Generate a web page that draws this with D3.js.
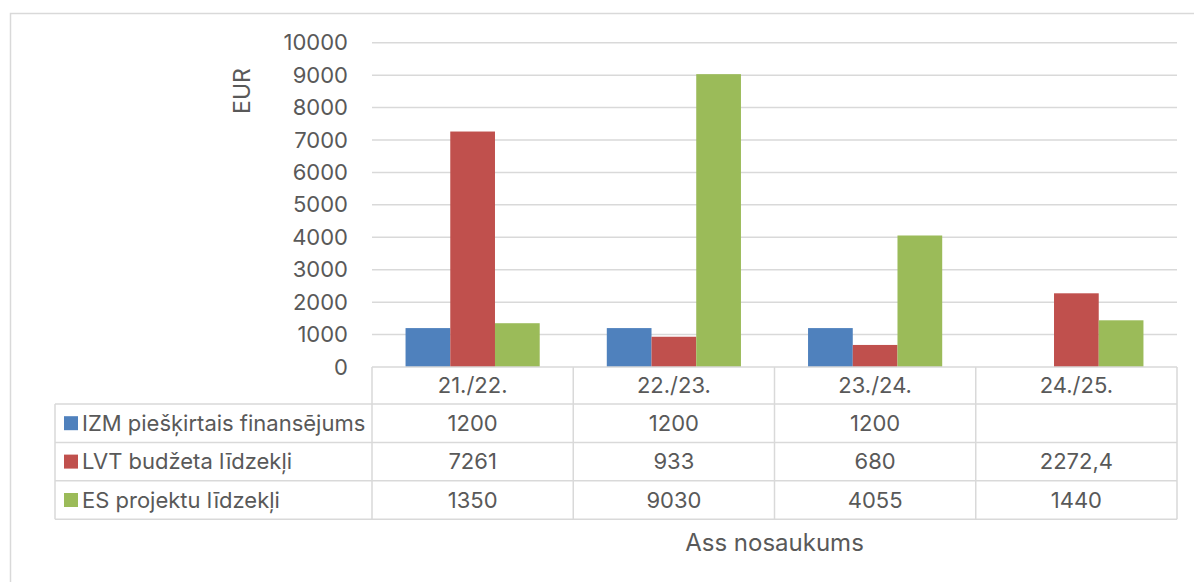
<!DOCTYPE html>
<html>
<head>
<meta charset="utf-8">
<script src="https://cdn.jsdelivr.net/npm/d3@7"></script>
<style>
  body { margin: 0; background: #fff; }
  text { font-family: Inter, "Liberation Sans", sans-serif; fill: #595959; }
</style>
</head>
<body>
<div class="chart"></div>
<script>
// data
var years = ['21./22.', '22./23.', '23./24.', '24./25.']
var seriesNames = ['IZM piešķirtais finansējums', 'LVT budžeta līdzekļi', 'ES projektu līdzekļi']
var izm = [1200, 1200, 1200, null]
var lvt = [7261, 933, 680, 2272.4]
var es = [1350, 9030, 4055, 1440]
var yTicks = [0, 1000, 2000, 3000, 4000, 5000, 6000, 7000, 8000, 9000, 10000]
var colors = ['#4f81bd', '#c0504d', '#9bbb59']

var series = [izm, lvt, es].map((values, i) => ({name: seriesNames[i], values, color: colors[i]}))
var fmt = v => v == null ? '' : String(v).replace('.', ',')

var width = 1194, height = 582
var svg = d3.select('.chart').append('svg')
  .attr('width', width).attr('height', height)

// chart area border (only left and top are in frame)
svg.append('path')
  .attr('d', `M10.5,${height} V13.5 H${width}`)
  .attr('fill', 'none').attr('stroke', '#d9d9d9').attr('stroke-width', 1.5)

var plot = {left: 372, right: 1177, top: 42.7, bottom: 367}
var fs = 22

var x = d3.scaleBand().domain(years).range([plot.left, plot.right])
var xInner = d3.scaleBand().domain(d3.range(series.length))
  .range([0, x.bandwidth()]).paddingOuter(0.75)
var y = d3.scaleLinear().domain([0, 10000]).range([plot.bottom, plot.top])

// gridlines
svg.append('g')
  .selectAll('line').data(yTicks.slice(1)).join('line')
  .attr('x1', plot.left).attr('x2', plot.right)
  .attr('y1', d => y(d)).attr('y2', d => y(d))
  .attr('stroke', '#d9d9d9').attr('stroke-width', 1.5)

// y axis labels
var yAxis = d3.axisLeft(y).tickValues(yTicks).tickFormat(d3.format('d')).tickSize(0).tickPadding(0)
var yg = svg.append('g').attr('transform', 'translate(348,0)').call(yAxis)
yg.select('.domain').remove()
yg.selectAll('text').attr('font-size', fs).attr('fill', '#595959')
  .style('font-family', 'Inter, "Liberation Sans", sans-serif')

svg.append('text')
  .attr('transform', `translate(250,91) rotate(-90)`)
  .attr('text-anchor', 'middle')
  .attr('font-size', 23)
  .text('EUR')

// bars
var groups = svg.append('g').selectAll('g').data(years).join('g')
  .attr('transform', d => `translate(${x(d)},0)`)

groups.selectAll('rect')
  .data((d, i) => series.map((s, j) => ({j, v: s.values[i], color: s.color})).filter(d => d.v != null))
  .join('rect')
  .attr('x', d => xInner(d.j))
  .attr('width', xInner.bandwidth())
  .attr('y', d => y(d.v))
  .attr('height', d => y(0) - y(d.v))
  .attr('fill', d => d.color)

// data table
var rowH = [37, 38.4, 38.4, 38.4]
var rowY = [plot.bottom]
rowH.forEach((h, i) => rowY.push(rowY[i] + h))
var legLeft = 55
var table = svg.append('g')
var lineStyle = sel => sel.attr('stroke', '#d9d9d9').attr('stroke-width', 1.5).attr('fill', 'none')

// horizontal lines
table.selectAll('line.h').data(rowY).join('line')
  .attr('x1', (d, i) => i == 0 ? plot.left : legLeft)
  .attr('x2', plot.right)
  .attr('y1', d => d).attr('y2', d => d)
  .call(lineStyle)

// vertical lines
table.append('line')
  .attr('x1', legLeft).attr('x2', legLeft)
  .attr('y1', rowY[1]).attr('y2', rowY[4]).call(lineStyle)
table.selectAll('line.v').data(years.map(d => x(d)).concat([plot.right])).join('line')
  .attr('x1', d => d).attr('x2', d => d)
  .attr('y1', rowY[0]).attr('y2', rowY[4]).call(lineStyle)

table.selectAll('text.cat').data(years).join('text')
  .attr('x', d => x(d) + x.bandwidth() / 2)
  .attr('y', (rowY[0] + rowY[1]) / 2)
  .attr('dy', '0.35em')
  .attr('text-anchor', 'middle')
  .attr('font-size', fs)
  .text(d => d)

series.forEach((s, i) => {
  var cy = (rowY[i + 1] + rowY[i + 2]) / 2
  table.append('rect')
    .attr('x', 64).attr('y', cy - 7).attr('width', 14).attr('height', 14)
    .attr('fill', s.color)
  table.append('text')
    .attr('x', 82).attr('y', cy).attr('dy', '0.35em')
    .attr('font-size', fs)
    .text(s.name)
  table.selectAll(null).data(s.values).join('text')
    .attr('x', (d, k) => x(years[k]) + x.bandwidth() / 2)
    .attr('y', cy).attr('dy', '0.35em')
    .attr('text-anchor', 'middle')
    .attr('font-size', fs)
    .text(fmt)
})

svg.append('text')
  .attr('x', (plot.left + plot.right) / 2)
  .attr('y', 543).attr('dy', '0.35em')
  .attr('text-anchor', 'middle')
  .attr('font-size', 24)
  .text('Ass nosaukums')
</script>
</body>
</html>
